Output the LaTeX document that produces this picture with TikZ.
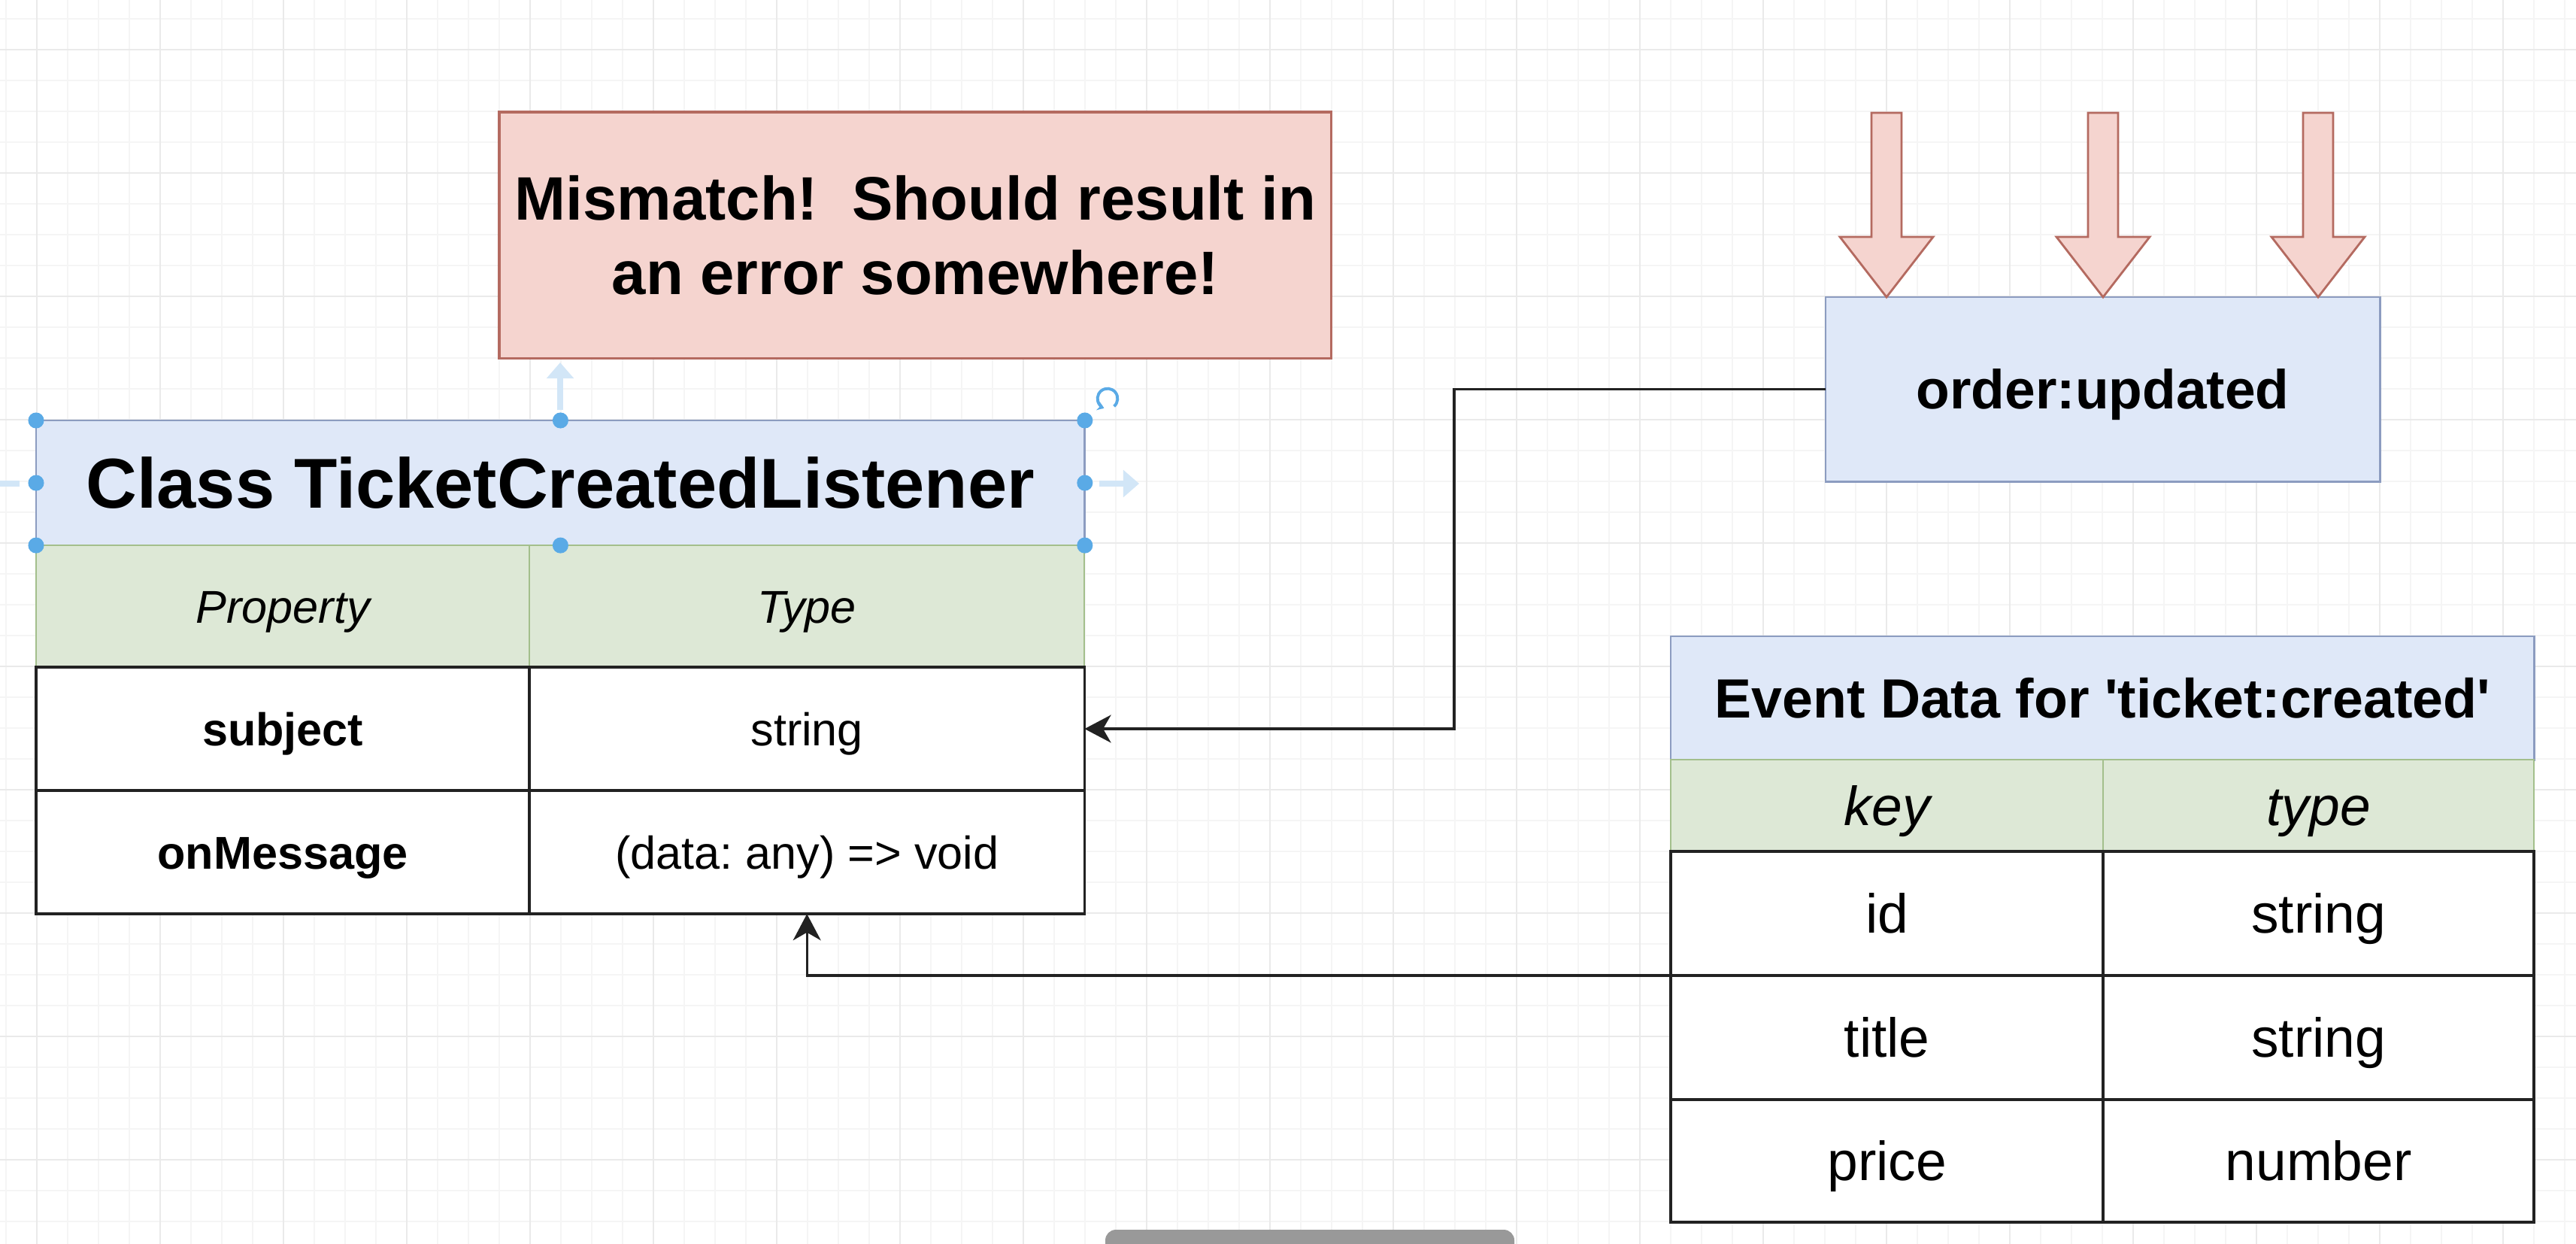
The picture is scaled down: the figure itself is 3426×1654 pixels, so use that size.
\documentclass[tikz,border=0pt]{standalone}
\usepackage{fontspec}
\setmainfont{Liberation Sans}[Ligatures=TeXOff]
\usetikzlibrary{arrows.meta}
\definecolor{hblue}{HTML}{DFE8F8}
\definecolor{hbluedraw}{HTML}{8C9CC0}
\definecolor{hgreen}{HTML}{DDE8D6}
\definecolor{hgreendraw}{HTML}{A3BF8C}
\definecolor{hred}{HTML}{F5D4CF}
\definecolor{hreddraw}{HTML}{B46A60}
\definecolor{selblue}{HTML}{5AAAE6}
\definecolor{hoverblue}{HTML}{D2E6F7}
\definecolor{gridminor}{HTML}{F5F5F5}
\definecolor{gridmajor}{HTML}{EAEAEA}
\definecolor{linecol}{HTML}{222222}
\definecolor{barfill}{HTML}{999999}
\tikzset{
  box/.style={rectangle, inner sep=0pt, outer sep=0pt, anchor=north west, align=center},
  hdrbox/.style={box, fill=hblue, draw=hbluedraw, line width=0.8pt},
  greencell/.style={box, fill=hgreen, draw=hgreendraw, line width=0.6pt},
  whitecell/.style={box, fill=white, draw=linecol, line width=1.1pt},
  redbox/.style={box, fill=hred, draw=hreddraw, line width=0.9pt},
  conn/.style={draw=linecol, line width=0.9pt, -{Stealth[length=10pt,width=10.5pt,inset=3pt]}},
  blockarrow/.style={draw=hreddraw, fill=hred, line width=0.8pt, line join=miter},
  handle/.style={fill=selblue},
  hover/.style={draw=hoverblue, line width=2pt, -{Triangle[length=6pt,width=10pt]}},
  fcls/.style={font=\fontsize{17.4}{21}\selectfont, text height=12.5pt, text depth=0pt},
  fclsb/.style={font=\fontsize{17.4}{21}\selectfont\bfseries, text height=12.5pt, text depth=0pt},
  fclsi/.style={font=\fontsize{17.4}{21}\selectfont\itshape, text height=12.5pt, text depth=0pt},
  fev/.style={font=\fontsize{20.8}{25}\selectfont, text height=14.9pt, text depth=0pt},
  fevi/.style={font=\fontsize{20.8}{25}\selectfont\itshape, text height=14.9pt, text depth=0pt},
  fevb/.style={font=\fontsize{20.8}{25}\selectfont\bfseries, text height=14.9pt, text depth=0pt},
}
\begin{document}
\frenchspacing
\begin{tikzpicture}[x=0.01cm,y=-0.01cm]
\clip (0,0) rectangle (3426,1654);
\fill[white] (0,0) rectangle (3426,1654);
% grid
\foreach \i in {0,...,84} \draw[gridminor, line width=0.6pt] ({8+41*\i},0) -- ({8+41*\i},1654);
\foreach \j in {0,...,40} \draw[gridminor, line width=0.6pt] (0,{25+41*\j}) -- (3426,{25+41*\j});
\foreach \i in {0,...,20} \draw[gridmajor, line width=0.7pt] ({49+164*\i},0) -- ({49+164*\i},1654);
\foreach \j in {0,...,10} \draw[gridmajor, line width=0.7pt] (0,{66+164*\j}) -- (3426,{66+164*\j});

% red note
\node[redbox, minimum width=11.06cm, minimum height=3.27cm,
      font=\fontsize{23.2}{28.2}\selectfont\bfseries] (note) at (664,149)
      {Mismatch!\ \ Should result in\\an error somewhere!};

% class table
\node[hdrbox, minimum width=13.94cm, minimum height=1.66cm,
      font=\fontsize{26.7}{32}\selectfont\bfseries, text height=19.1pt, text depth=0pt] (ch) at (48,559) {Class TicketCreatedListener};
\node[greencell, minimum width=6.56cm, minimum height=1.62cm, fclsi] (cg1) at (48,725) {Property};
\node[greencell, minimum width=7.38cm, minimum height=1.62cm, fclsi] (cg2) at (704,725) {Type};
\node[whitecell, minimum width=6.56cm, minimum height=1.64cm, fclsb] (cs1) at (48,887) {subject};
\node[whitecell, minimum width=7.38cm, minimum height=1.64cm, fcls] (cs2) at (704,887) {string};
\node[whitecell, minimum width=6.56cm, minimum height=1.64cm, fclsb] (co1) at (48,1051) {onMessage};
\node[whitecell, minimum width=7.38cm, minimum height=1.64cm, fcls] (co2) at (704,1051) {(data: any) => void};

% order:updated
\node[hdrbox, minimum width=7.37cm, minimum height=2.45cm, fevb] (ou) at (2428,395) {order:updated};
\foreach \cx in {2509,2797,3083}
  \draw[blockarrow] ({\cx-20},150) -- ({\cx+20},150) -- ({\cx+20},315) -- ({\cx+62},315)
        -- (\cx,395) -- ({\cx-62},315) -- ({\cx-20},315) -- cycle;

% event table
\node[hdrbox, minimum width=11.48cm, minimum height=1.64cm,
      font=\fontsize{20.9}{25}\selectfont\bfseries, text height=15pt, text depth=0pt] (eh) at (2222,846) {Event Data for 'ticket:created'};
\node[greencell, minimum width=5.75cm, minimum height=1.22cm, fevi] (eg1) at (2222,1010) {key};
\node[greencell, minimum width=5.73cm, minimum height=1.22cm, fevi] (eg2) at (2797,1010) {type};
\node[whitecell, minimum width=5.75cm, minimum height=1.65cm, fev] (e11) at (2222,1132) {id};
\node[whitecell, minimum width=5.73cm, minimum height=1.65cm, fev] (e12) at (2797,1132) {string};
\node[whitecell, minimum width=5.75cm, minimum height=1.65cm, fev] (e21) at (2222,1297) {title};
\node[whitecell, minimum width=5.73cm, minimum height=1.65cm, fev] (e22) at (2797,1297) {string};
\node[whitecell, minimum width=5.75cm, minimum height=1.63cm, fev] (e31) at (2222,1462) {price};
\node[whitecell, minimum width=5.73cm, minimum height=1.63cm, fev] (e32) at (2797,1462) {number};

% connectors
\coordinate (e1) at (1934,0);
\draw[conn] (ou.west) -- (ou.west -| e1) |- (cs2.east);
\draw[conn] (e21.north west) -| (co2.south);

% selection handles on the class header
\foreach \p in {(ch.north west),(ch.north),(ch.north east),(ch.west),(ch.east),(ch.south west),(ch.south),(ch.south east)}
  \fill[handle] \p circle[radius=3pt];
\draw[hover] (745,545) -- (745,482);
\draw[hover] (1462,643) -- (1515,643);
\draw[hover] (26,643) -- (-30,643);
\draw[selblue, line width=1.1pt, -{Stealth[length=2.5pt,width=3.5pt]}]
  ([shift={(-50:3.8pt)}]1473,530) arc[start angle=-50, end angle=250, radius=3.8pt];

% player bar
\fill[barfill, rounded corners=4pt] (1470,1635) rectangle (2014,1680);
\end{tikzpicture}
\end{document}
